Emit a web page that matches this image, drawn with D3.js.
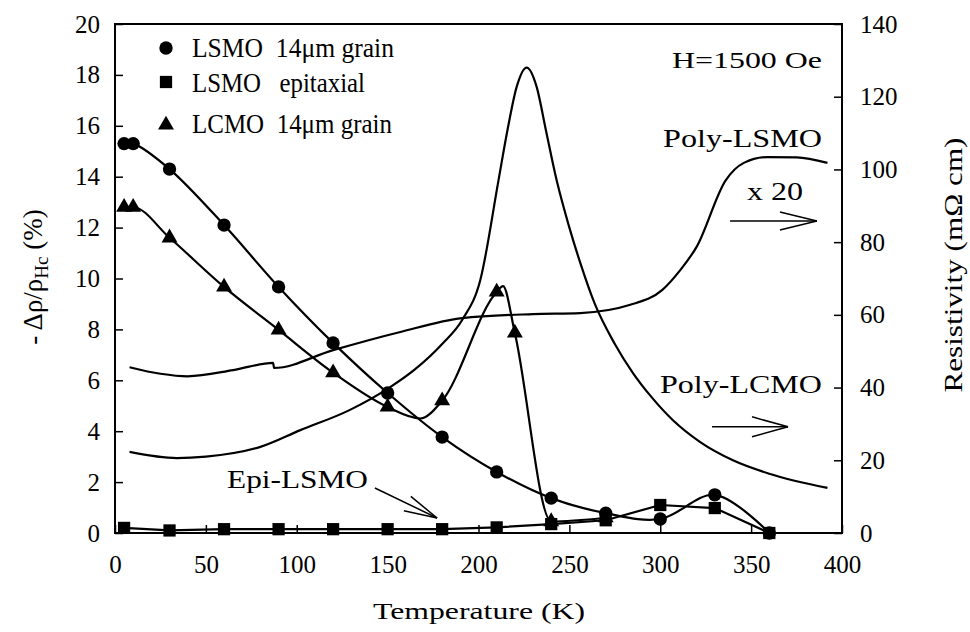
<!DOCTYPE html>
<html>
<head>
<meta charset="utf-8">
<script src="https://cdn.jsdelivr.net/npm/d3@7"></script>
<style>
body { margin: 0; background: #fff; }
text { font-family: "Liberation Serif", "Times New Roman", serif; fill: #000; }
</style>
</head>
<body>
<svg id="chart"></svg>
<script>
// magnetoresistance -dρ/ρ (%), left axis
var tempLsmoGrain = [5, 10, 30, 60, 90, 120, 150, 180, 210, 240, 270, 300, 330, 360]
var mrLsmoGrain = [15.3, 15.3, 14.3, 12.1, 9.67, 7.47, 5.5, 3.77, 2.4, 1.37, 0.78, 0.55, 1.5, 0.0]

var tempLsmoEpi = [5, 30, 60, 90, 120, 150, 180, 210, 240, 270, 300, 330, 360]
var mrLsmoEpi = [0.2, 0.1, 0.15, 0.15, 0.15, 0.15, 0.15, 0.22, 0.35, 0.5, 1.1, 0.98, 0.0]

var tempLcmo = [5, 10, 30, 60, 90, 120, 150, 180, 210, 220, 240, 270]
var mrLcmo = [12.8, 12.8, 11.6, 9.67, 7.98, 6.3, 4.95, 5.2, 9.47, 7.86, 0.45, 0.6]

// the LCMO line dips near 168 K and tops out near 213 K between the markers
var tempLcmoLine = [5, 10, 30, 60, 90, 120, 150, 168, 180, 210, 213.5, 220, 240, 270]
var mrLcmoLine = [12.8, 12.8, 11.6, 9.67, 7.98, 6.3, 4.95, 4.5, 5.2, 9.47, 9.7, 7.86, 0.45, 0.6]

// resistivity (mΩ cm), right axis
var tempPolyLsmo = [8, 25, 40, 65, 87, 87.5, 120, 157, 191, 230, 256, 283, 301, 311, 320, 336, 346, 359, 375, 392]
var rhoPolyLsmo = [45.6, 43.8, 43.1, 44.8, 46.8, 45.4, 50.3, 55.3, 59.1, 60.2, 60.5, 62.7, 66.8, 72.3, 78.7, 97, 101.8, 103.4, 103.3, 101.8]

var tempPolyLcmo = [8, 34, 50, 80, 102, 129, 151, 165, 180, 191, 201, 211, 216, 221, 226.5, 232, 237, 243, 250, 256, 264, 275, 285, 295, 307, 322, 340, 360, 392]
var rhoPolyLcmo = [22.3, 20.6, 21.0, 23.7, 28.3, 33.8, 40, 45, 52, 58.6, 69.6, 97, 111, 122.7, 128, 122.7, 111, 97, 84, 74.3, 63, 52, 44, 37.5, 31, 25, 20, 16.3, 12.4]

var xTicks = [0, 50, 100, 150, 200, 250, 300, 350, 400]
var yLeftTicks = [0, 2, 4, 6, 8, 10, 12, 14, 16, 18, 20]
var yRightTicks = [0, 20, 40, 60, 80, 100, 120, 140]

var legendLabels = ["LSMO  14\u03bcm grain", "LSMO   epitaxial", "LCMO  14\u03bcm grain"]

var zip = function(xs, ys)
{
    return xs.map(function(v, i) { return [v, ys[i]]; })
}

var width = 970, height = 632
var plot = {left: 115, right: 842, top: 24, bottom: 533}

var svg = d3.select("#chart")
    .attr("width", width)
    .attr("height", height)

var x = d3.scaleLinear().domain([0, 400]).range([plot.left, plot.right])
var yL = d3.scaleLinear().domain([0, 20]).range([plot.bottom, plot.top])
var yR = d3.scaleLinear().domain([0, 140]).range([plot.bottom, plot.top])

// axes, ticks point inward
var styleAxis = function(g)
{
    g.select(".domain").remove()
    g.selectAll(".tick line").attr("stroke", "#000").attr("stroke-width", 1.5)
    g.selectAll(".tick text")
        .style("font-family", "'Liberation Serif', serif")
        .style("font-size", "25px")
        .attr("fill", "#000")
}

svg.append("g")
    .attr("transform", "translate(0," + plot.bottom + ")")
    .call(d3.axisBottom(x).tickValues(xTicks).tickSizeInner(-8).tickSizeOuter(0).tickPadding(22))
    .call(styleAxis)

svg.append("g")
    .attr("transform", "translate(" + plot.left + ",0)")
    .call(d3.axisLeft(yL).tickValues(yLeftTicks).tickSizeInner(-8).tickSizeOuter(0).tickPadding(15))
    .call(styleAxis)

svg.append("g")
    .attr("transform", "translate(" + plot.right + ",0)")
    .call(d3.axisRight(yR).tickValues(yRightTicks).tickSizeInner(-8).tickSizeOuter(0).tickPadding(18))
    .call(styleAxis)

svg.append("rect")
    .attr("x", plot.left)
    .attr("y", plot.top)
    .attr("width", plot.right - plot.left)
    .attr("height", plot.bottom - plot.top)
    .attr("fill", "none")
    .attr("stroke", "#000")
    .attr("stroke-width", 2)

// lines
var drawLine = function(pts, yScale, curve)
{
    svg.append("path")
        .datum(pts)
        .attr("fill", "none")
        .attr("stroke", "#000")
        .attr("stroke-width", 2.2)
        .attr("stroke-linejoin", "round")
        .attr("d", d3.line()
            .x(function(d) { return x(d[0]); })
            .y(function(d) { return yScale(d[1]); })
            .curve(curve))
}

drawLine(zip(tempPolyLsmo, rhoPolyLsmo), yR, d3.curveMonotoneX)
drawLine(zip(tempPolyLcmo, rhoPolyLcmo), yR, d3.curveMonotoneX)
drawLine(zip(tempLsmoGrain, mrLsmoGrain), yL, d3.curveCatmullRom)
drawLine(zip(tempLsmoEpi, mrLsmoEpi), yL, d3.curveLinear)
drawLine(zip(tempLcmoLine, mrLcmoLine), yL, d3.curveMonotoneX)

// markers
var drawMarkers = function(pts, type, size)
{
    svg.append("g")
        .selectAll("path")
        .data(pts)
        .enter()
        .append("path")
        .attr("transform", function(d) { return "translate(" + x(d[0]) + "," + yL(d[1]) + ")"; })
        .attr("d", d3.symbol().type(type).size(size))
        .attr("fill", "#000")
}

drawMarkers(zip(tempLsmoEpi, mrLsmoEpi), d3.symbolSquare, 150)
drawMarkers(zip(tempLcmo, mrLcmo), d3.symbolTriangle, 110)
drawMarkers(zip(tempLsmoGrain, mrLsmoGrain), d3.symbolCircle, 140)

// legend
var legendSymbols = [d3.symbolCircle, d3.symbolSquare, d3.symbolTriangle]
var legendSizes = [140, 150, 110]
var legendY = [48, 82, 125]
var legendBase = [57, 92, 133]
var legendWidth = [202, 173, 200]

legendLabels.forEach(function(label, i)
{
    svg.append("path")
        .attr("transform", "translate(166," + legendY[i] + ")")
        .attr("d", d3.symbol().type(legendSymbols[i]).size(legendSizes[i]))
        .attr("fill", "#000")
    svg.append("text")
        .attr("x", 192)
        .attr("y", legendBase[i])
        .style("font-size", "28px")
        .style("white-space", "pre")
        .attr("textLength", legendWidth[i])
        .attr("lengthAdjust", "spacingAndGlyphs")
        .text(label)
})

// annotations
var addText = function(str, px, py, size, len)
{
    return svg.append("text")
        .attr("x", px)
        .attr("y", py)
        .style("font-size", size + "px")
        .attr("textLength", len)
        .attr("lengthAdjust", "spacingAndGlyphs")
        .text(str)
}

var addArrow = function(x0, y0, x1, y1, back, spread)
{
    var dx = x1 - x0, dy = y1 - y0
    var len = Math.sqrt(dx * dx + dy * dy)
    var ux = dx / len, uy = dy / len
    var bx = x1 - ux * back, by = y1 - uy * back
    var g = svg.append("g")
        .attr("stroke", "#000")
        .attr("stroke-width", 1.5)
        .attr("fill", "none")
    g.append("line").attr("x1", x0).attr("y1", y0).attr("x2", x1).attr("y2", y1)
    g.append("line").attr("x1", bx - uy * spread).attr("y1", by + ux * spread).attr("x2", x1).attr("y2", y1)
    g.append("line").attr("x1", bx + uy * spread).attr("y1", by - ux * spread).attr("x2", x1).attr("y2", y1)
}

addText("H=1500 Oe", 672, 68, 24, 150)
addText("Poly-LSMO", 663, 147, 25, 159)
addText("x 20", 747, 200, 25, 56)
addArrow(x(338.4), yR(85.8), x(386.2), yR(85.8), 37, 9)

addText("Poly-LCMO", 660, 393, 25, 162)
addArrow(x(328.5), yR(29.2), x(370.3), yR(29.2), 36, 10)

addText("Epi-LSMO", 227, 488, 25, 141)
addArrow(x(143), yL(1.77), x(177.2), yL(0.59), 33, 8)

// axis titles
addText("Temperature (K)", 373, 619, 24, 212)

svg.append("text")
    .attr("transform", "translate(962,265) rotate(-90)")
    .attr("text-anchor", "middle")
    .style("font-size", "25px")
    .attr("textLength", 255)
    .attr("lengthAdjust", "spacingAndGlyphs")
    .text("Resistivity (m\u03a9 cm)")

var yTitle = svg.append("text")
    .attr("transform", "translate(42,277) rotate(-90)")
    .attr("text-anchor", "middle")
    .style("font-size", "27px")
yTitle.append("tspan").text("- \u0394\u03c1/\u03c1")
yTitle.append("tspan").attr("dy", 6).style("font-size", "19px").text("Hc")
yTitle.append("tspan").attr("dy", -6).text(" (%)")
</script>
</body>
</html>
